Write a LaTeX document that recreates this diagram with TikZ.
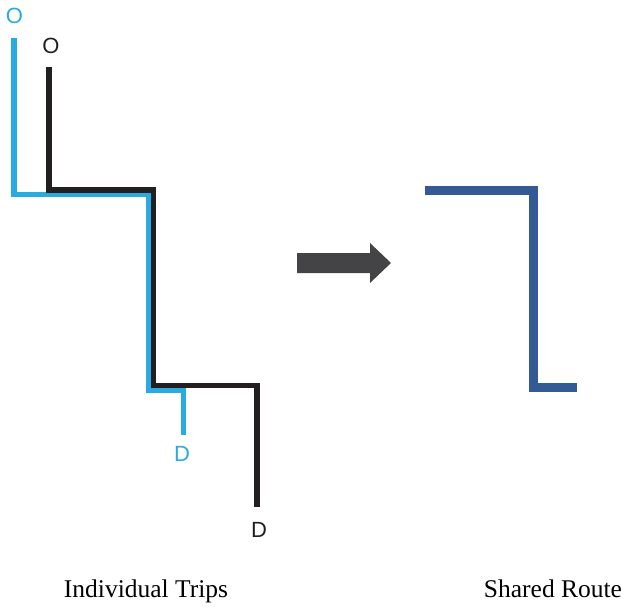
\documentclass[tikz,border=0pt]{standalone}
\usepackage{fontspec}
\setmainfont{Liberation Serif}
\newfontfamily\labelfont{Liberation Sans}
\definecolor{tripblue}{HTML}{29ABE2}
\definecolor{tripblack}{HTML}{231F20}
\definecolor{routeblue}{HTML}{345A96}
\definecolor{arrowgray}{HTML}{444446}
\begin{document}
\begin{tikzpicture}[x=1pt,y=-1pt,
  trip/.style={line width=5.2pt,miter limit=10},
  route/.style={line width=9pt,color=routeblue},
  endlabel/.style={font=\labelfont\fontsize{22}{22}\selectfont,inner sep=0pt},
  caption/.style={font=\fontsize{25.5}{26}\selectfont,inner sep=0pt,anchor=base}]
\useasboundingbox (0,0) rectangle (626,608);

% trip A (light blue)
\coordinate (a0) at (14,38);
\coordinate (a1) at (14,194.5);
\coordinate (a2) at (148.5,194.5);
\coordinate (a3) at (148.5,390);
\coordinate (a4) at (183.5,390);
\coordinate (a5) at (183.5,435);
\draw[trip,tripblue] (a0) -- (a1) -- (a2) -- (a3) -- (a4) -- (a5);

% trip B (black)
\coordinate (b0) at (49,67);
\coordinate (b1) at (49,190);
\coordinate (b2) at (153.8,190);
\coordinate (b3) at (153.8,385.5);
\coordinate (b4) at (257,385.5);
\coordinate (b5) at (257,507);
\draw[trip,tripblack] (b0) -- (b1) -- (b2) -- (b3) -- (b4) -- (b5);

% origin and destination labels
\node[endlabel,text=tripblue] (oa) at (14.5,16) {O};
\node[endlabel,text=tripblack] (ob) at (51,46) {O};
\node[endlabel,text=tripblue] (da) at (182,454) {D};
\node[endlabel,text=tripblack] (db) at (259,530) {D};

% block arrow
\fill[arrowgray] (297,253) -- (370,253) -- (370,243) -- (391,263)
  -- (370,283) -- (370,273) -- (297,273) -- cycle;

% merged route
\coordinate (r0) at (425,190.5);
\coordinate (r1) at (533.5,190.5);
\coordinate (r2) at (533.5,387.5);
\coordinate (r3) at (577,387.5);
\draw[route] (r0) -- (r1) -- (r2) -- (r3);

% captions
\node[caption] (c1) at (146,597) {Individual Trips};
\node[caption] (c2) at (553,597) {Shared Route};
\end{tikzpicture}
\end{document}
